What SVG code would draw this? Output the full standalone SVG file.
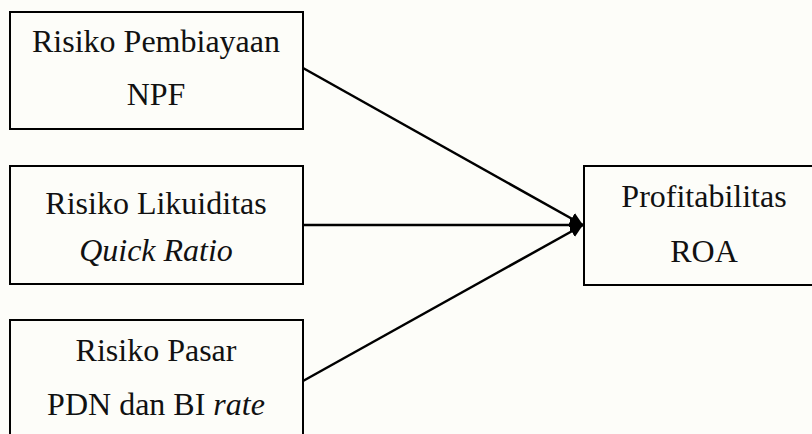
<svg xmlns="http://www.w3.org/2000/svg" width="812" height="434" viewBox="0 0 812 434">
<defs>
<style>
.box{fill:none;stroke:#000;stroke-width:2}
.t{font-family:"Liberation Serif","Times New Roman",serif;font-size:32px;fill:#111;text-anchor:middle}
.i{font-style:italic}
.c{stroke:#000;stroke-width:2.5;fill:none}
</style>
<marker id="ah" markerUnits="userSpaceOnUse" markerWidth="14" markerHeight="14" refX="13" refY="7" orient="auto">
<path d="M0,0.5 L13,7 L0,13.5 Z" fill="#000"/>
</marker>
</defs>
<rect width="812" height="434" fill="#fdfdf9"/>
<g id="connectors">
<line class="c" x1="303" y1="68" x2="583" y2="225" marker-end="url(#ah)"/>
<line class="c" x1="303" y1="225" x2="583" y2="225" marker-end="url(#ah)"/>
<line class="c" x1="303" y1="381" x2="583" y2="225" marker-end="url(#ah)"/>
</g>
<g id="node-npf">
<rect class="box" x="10" y="12" width="293" height="117"/>
<text class="t" x="156" y="52">Risiko Pembiayaan</text>
<text class="t" x="156" y="105">NPF</text>
</g>
<g id="node-quick">
<rect class="box" x="10" y="166" width="293" height="118"/>
<text class="t" x="156" y="214">Risiko Likuiditas</text>
<text class="t i" x="156" y="261">Quick Ratio</text>
</g>
<g id="node-pasar">
<rect class="box" x="10" y="320" width="293" height="130"/>
<text class="t" x="156" y="361">Risiko Pasar</text>
<text class="t" x="156" y="415">PDN dan BI <tspan class="i">rate</tspan></text>
</g>
<g id="node-roa">
<rect class="box" x="584" y="166" width="240" height="119"/>
<text class="t" x="704" y="207">Profitabilitas</text>
<text class="t" x="704" y="262">ROA</text>
</g>
</svg>
